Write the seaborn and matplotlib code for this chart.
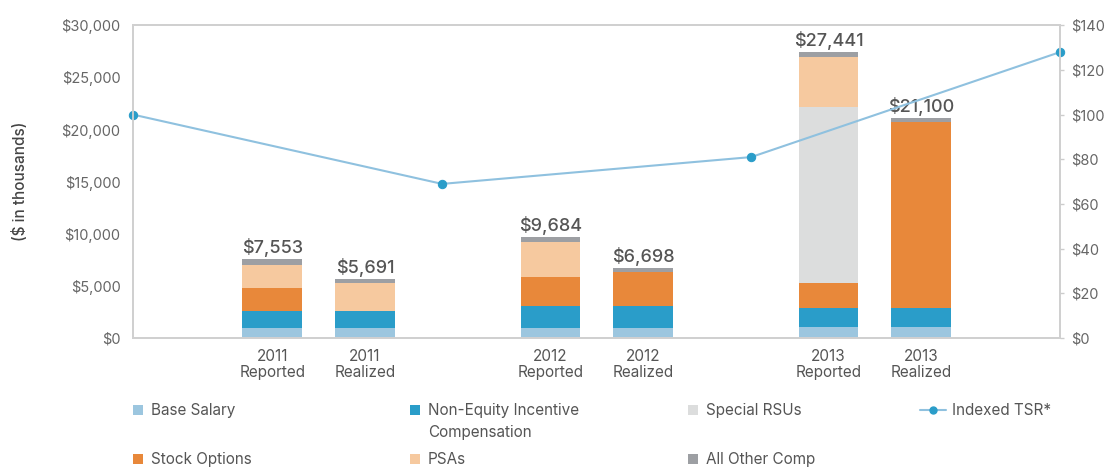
import pandas as pd
import seaborn as sns
import matplotlib.pyplot as plt
from matplotlib.patches import Rectangle
from matplotlib.lines import Line2D
from matplotlib.ticker import FuncFormatter

# Data ($ in thousands)
bar_labels = ["2011\nReported", "2011\nRealized", "2012\nReported",
              "2012\nRealized", "2013\nReported", "2013\nRealized"]
bar_pos = [0.15, 0.25, 0.45, 0.55, 0.75, 0.85]
base_salary = [1000, 1000, 1000, 1000, 1090, 1090]
non_equity = [1560, 1560, 2050, 2050, 1770, 1770]
stock_options = [2215, 0, 2775, 3328, 2440, 17855]
special_rsus = [0, 0, 0, 0, 16820, 0]
psas = [2215, 2741, 3369, 0, 4845, 0]
all_other = [563, 390, 490, 320, 476, 385]
totals = [7553, 5691, 9684, 6698, 27441, 21100]

tsr_pos = [0, 1 / 3, 2 / 3, 1]
tsr = [100, 69, 81, 128]

components = [
    ("Base Salary", base_salary, "#9cc6df"),
    ("Non-Equity Incentive\nCompensation", non_equity, "#2a9dc9"),
    ("Stock Options", stock_options, "#e8883a"),
    ("Special RSUs", special_rsus, "#dcdddd"),
    ("PSAs", psas, "#f6c99f"),
    ("All Other Comp", all_other, "#9d9fa3"),
]

df = pd.DataFrame({"pos": bar_pos})
running = [0] * len(bar_pos)
for name, vals, _ in components:
    running = [r + v for r, v in zip(running, vals)]
    df[name] = running

sns.set_theme(style="white")
plt.rcParams["font.family"] = ["Inter", "DejaVu Sans"]

fig = plt.figure(figsize=(11.09, 4.67), dpi=100)
ax = fig.add_axes([0.12, 0.276, 0.836, 0.67])

# stacked bars: draw cumulative heights from the top down
for name, _, color in reversed(components):
    sns.barplot(data=df, x="pos", y=name, native_scale=True, width=0.64,
                color=color, saturation=1, errorbar=None, linewidth=0, ax=ax)

for x, t in zip(bar_pos, totals):
    ax.annotate(f"${t:,}", (x, t), xytext=(0, 1.5), textcoords="offset points",
                ha="center", va="bottom", fontsize=13, fontweight="medium",
                color="#555555")

ax.set_xlim(0, 1)
ax.set_ylim(0, 30000)
ax.set_yticks(range(0, 30001, 5000))
ax.yaxis.set_major_formatter(FuncFormatter(lambda v, p: f"${v:,.0f}"))
ax.set_xticks(bar_pos)
ax.set_xticklabels(bar_labels, linespacing=1.05)
ax.tick_params(axis="x", length=0, pad=8, labelsize=11, labelcolor="#555555")
ax.tick_params(axis="y", length=0, pad=9, labelsize=10.5, labelcolor="#666666")
ax.set_xlabel("")
ax.set_ylabel("($ in thousands)", fontsize=11, fontweight="medium",
              color="#444444", labelpad=24)

ax2 = ax.twinx()
sns.lineplot(x=tsr_pos, y=tsr, ax=ax2, color="#8fc1df", linewidth=1.5,
             marker="o", markersize=6, markerfacecolor="#2a9dc9",
             markeredgecolor="#2a9dc9", clip_on=False)
ax2.set_ylim(0, 140)
ax2.set_yticks(range(0, 141, 20))
ax2.yaxis.set_major_formatter(FuncFormatter(lambda v, p: f"${v:.0f}"))
ax2.tick_params(axis="y", length=3, width=1, color="#cccccc", pad=5,
                labelsize=10.5, labelcolor="#666666")
ax2.set_xlim(0, 1)
ax2.set_ylabel("")

for a in (ax, ax2):
    for s in a.spines.values():
        s.set_color("#d0d0d0")
        s.set_linewidth(1.3)

# legend, laid out by hand in figure pixels
W, H = 1109, 467


def fx(px):
    return px / W


def fy(py):
    return 1 - py / H


legend_items = [
    ("Base Salary", "#9cc6df", 133, 410),
    ("Stock Options", "#e8883a", 133, 459),
    ("Non-Equity Incentive\nCompensation", "#2a9dc9", 410, 410),
    ("PSAs", "#f6c99f", 410, 459),
    ("Special RSUs", "#dcdddd", 688, 410),
    ("All Other Comp", "#9d9fa3", 688, 459),
]
for label, color, px, py in legend_items:
    fig.add_artist(Rectangle((fx(px), fy(py + 5)), 10 / W, 10 / H,
                             transform=fig.transFigure, color=color, lw=0))
    fig.text(fx(px + 18), fy(py - 7), label, ha="left", va="top",
             fontsize=11, color="#555555", linespacing=1.6)

fig.add_artist(Line2D([fx(920), fx(946)], [fy(410), fy(410)],
                      transform=fig.transFigure, color="#8fc1df", lw=1.5))
fig.add_artist(Line2D([fx(933)], [fy(410)], transform=fig.transFigure,
                      marker="o", markersize=5, color="#2a9dc9"))
fig.text(fx(952), fy(403), "Indexed TSR*", ha="left", va="top",
         fontsize=11, color="#555555")

plt.savefig("out.png", dpi=100)
